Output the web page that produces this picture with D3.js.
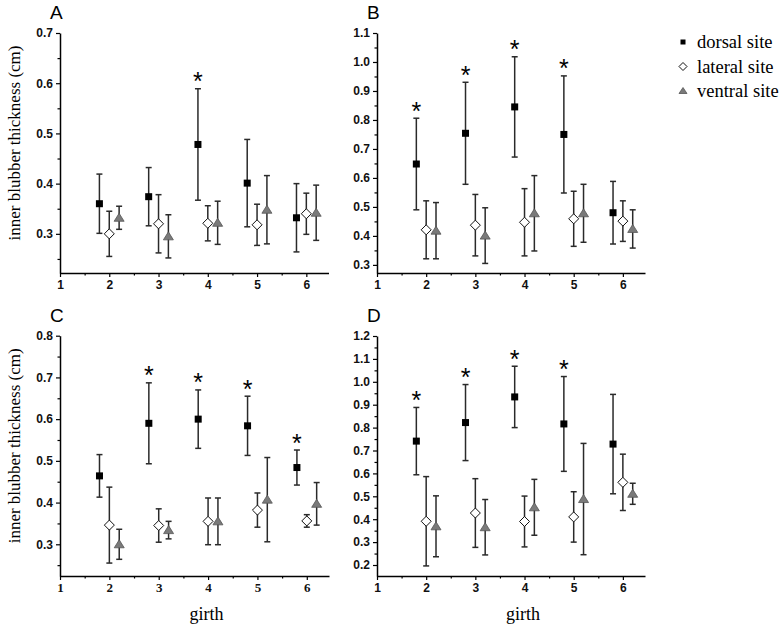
<!DOCTYPE html>
<html>
<head>
<meta charset="utf-8">
<script src="https://cdn.jsdelivr.net/npm/d3@7"></script>
<style>
body { margin: 0; background: #fff; }
</style>
</head>
<body>
<div id="chart"></div>
<script>
var girths = [2, 3, 4, 5, 6];
var siteNames = ["dorsal site", "lateral site", "ventral site"];
var xTicks = [1, 2, 3, 4, 5, 6];

// A
var aDorsal = [0.360, 0.374, 0.478, 0.401, 0.332];
var aDorsalSd = [0.059, 0.058, 0.111, 0.087, 0.068];
var aLateral = [0.300, 0.320, 0.321, 0.318, 0.340];
var aLateralSd = [0.045, 0.058, 0.035, 0.041, 0.041];
var aVentral = [0.332, 0.295, 0.322, 0.348, 0.342];
var aVentralSd = [0.023, 0.043, 0.043, 0.068, 0.055];
var aStars = [4];
var aTicks = [0.3, 0.4, 0.5, 0.6, 0.7];

// B
var bDorsal = [0.648, 0.754, 0.845, 0.750, 0.480];
var bDorsalSd = [0.158, 0.176, 0.173, 0.202, 0.108];
var bLateral = [0.421, 0.437, 0.447, 0.459, 0.451];
var bLateralSd = [0.100, 0.106, 0.116, 0.095, 0.070];
var bVentral = [0.418, 0.401, 0.478, 0.478, 0.424];
var bVentralSd = [0.097, 0.096, 0.130, 0.100, 0.066];
var bStars = [2, 3, 4, 5];
var bTicks = [0.3, 0.4, 0.5, 0.6, 0.7, 0.8, 0.9, 1.0, 1.1];

// C
var cDorsal = [0.464, 0.590, 0.600, 0.584, 0.484];
var cDorsalSd = [0.051, 0.097, 0.070, 0.071, 0.042];
var cLateral = [0.346, 0.345, 0.355, 0.382, 0.356];
var cLateralSd = [0.091, 0.040, 0.056, 0.041, 0.015];
var cVentral = [0.300, 0.334, 0.355, 0.407, 0.397];
var cVentralSd = [0.036, 0.021, 0.056, 0.101, 0.051];
var cStars = [3, 4, 5, 6];
var cTicks = [0.3, 0.4, 0.5, 0.6, 0.7, 0.8];

// D
var dDorsal = [0.741, 0.822, 0.934, 0.816, 0.728];
var dDorsalSd = [0.147, 0.166, 0.134, 0.207, 0.217];
var dLateral = [0.391, 0.427, 0.390, 0.410, 0.561];
var dLateralSd = [0.195, 0.150, 0.111, 0.110, 0.123];
var dVentral = [0.369, 0.365, 0.452, 0.488, 0.511];
var dVentralSd = [0.133, 0.121, 0.122, 0.243, 0.046];
var dStars = [2, 3, 4, 5];
var dTicks = [0.2, 0.3, 0.4, 0.5, 0.6, 0.7, 0.8, 0.9, 1.0, 1.1, 1.2];

var panels = [
    {name: "A", series: [[aDorsal, aDorsalSd], [aLateral, aLateralSd], [aVentral, aVentralSd]], stars: aStars, ticks: aTicks,
     ymin: 0.222, left: 60, right: 328.5, top: 33, bottom: 273, ylabel: true, xlabel: false, serifX: false},
    {name: "B", series: [[bDorsal, bDorsalSd], [bLateral, bLateralSd], [bVentral, bVentralSd]], stars: bStars, ticks: bTicks,
     ymin: 0.272, left: 377, right: 645, top: 33, bottom: 273, ylabel: false, xlabel: false, serifX: false},
    {name: "C", series: [[cDorsal, cDorsalSd], [cLateral, cLateralSd], [cVentral, cVentralSd]], stars: cStars, ticks: cTicks,
     ymin: 0.224, left: 60, right: 329, top: 335.7, bottom: 576, ylabel: true, xlabel: true, serifX: true},
    {name: "D", series: [[dDorsal, dDorsalSd], [dLateral, dLateralSd], [dVentral, dVentralSd]], stars: dStars, ticks: dTicks,
     ymin: 0.152, left: 377, right: 645, top: 336, bottom: 576, ylabel: false, xlabel: true, serifX: false}
];

var offsets = [-0.2, 0, 0.2];
var sans = "'Liberation Sans', Arial, sans-serif";
var serif = "'Liberation Serif', 'Times New Roman', serif";

var svg = d3.select('#chart').append('svg')
    .attr('width', 784)
    .attr('height', 627);

function marker(sel, k, s) {
    if (k === 0) {
        sel.append('rect')
            .attr('x', -s / 2).attr('y', -s / 2).attr('width', s).attr('height', s)
            .style('fill', '#000');
    } else if (k === 1) {
        var h = s / 2 + 1;
        sel.append('path')
            .attr('d', 'M0,' + (-h) + 'L' + h + ',0L0,' + h + 'L' + (-h) + ',0Z')
            .style('fill', '#fff').style('stroke', '#111').style('stroke-width', 1);
    } else {
        var w = s / 2 + 1;
        sel.append('path')
            .attr('d', 'M0,' + (-w + 0.5) + 'L' + w + ',' + (w - 1.5) + 'L' + (-w) + ',' + (w - 1.5) + 'Z')
            .style('fill', '#7a7a7a').style('stroke', '#555').style('stroke-width', 0.8);
    }
}

function drawPanel(p) {
    var x = d3.scaleLinear().domain([1, 6.45]).range([p.left, p.right]);
    var ymax = p.ticks[p.ticks.length - 1];
    var y = d3.scaleLinear().domain([p.ymin, ymax]).range([p.bottom, p.top]);
    var g = svg.append('g');

    // minor ticks
    var yMinor = p.ticks.map(function(t){ return t - 0.05; }).filter(function(t){ return t > p.ymin; });
    var xMinor = [1.5, 2.5, 3.5, 4.5, 5.5];
    g.append('g').attr('transform', 'translate(' + p.left + ',0)')
        .call(d3.axisLeft(y).tickValues(yMinor).tickSize(2.5).tickSizeOuter(0).tickFormat(''))
        .call(function(a){ a.select('.domain').remove(); });
    g.append('g').attr('transform', 'translate(0,' + p.bottom + ')')
        .call(d3.axisBottom(x).tickValues(xMinor).tickSize(2.5).tickSizeOuter(0).tickFormat(''))
        .call(function(a){ a.select('.domain').remove(); });

    var ya = g.append('g').attr('transform', 'translate(' + p.left + ',0)')
        .call(d3.axisLeft(y).tickValues(p.ticks).tickFormat(d3.format('.1f')).tickSize(4).tickSizeOuter(0).tickPadding(3));
    var xa = g.append('g').attr('transform', 'translate(0,' + p.bottom + ')')
        .call(d3.axisBottom(x).tickValues(xTicks).tickFormat(d3.format('d')).tickSize(4).tickSizeOuter(0).tickPadding(3));

    g.selectAll('.domain').style('stroke', '#000').style('stroke-width', 1.5);
    g.selectAll('.tick line').style('stroke', '#000').style('stroke-width', 1.2);
    ya.selectAll('text').style('font-family', sans).style('font-weight', 'bold').style('font-size', '12px').style('fill', '#111');
    xa.selectAll('text').style('font-family', p.serifX ? serif : sans).style('font-weight', 'bold')
        .style('font-size', p.serifX ? '13px' : '12px').style('fill', '#111');

    // panel letter
    g.append('text').attr('x', p.left - 10).attr('y', p.top - 14)
        .style('font-family', sans).style('font-size', '19px').style('fill', '#000')
        .text(p.name);

    if (p.ylabel) {
        g.append('text')
            .attr('transform', 'translate(' + (p.left - 40) + ',' + ((p.top + p.bottom) / 2 - 10) + ') rotate(-90)')
            .attr('text-anchor', 'middle')
            .style('font-family', serif).style('font-size', '17px').style('fill', '#000')
            .text('inner blubber thickness (cm)');
    }
    if (p.xlabel) {
        g.append('text')
            .attr('x', (p.left + p.right) / 2 + 12).attr('y', p.bottom + 44)
            .attr('text-anchor', 'middle')
            .style('font-family', serif).style('font-size', '18px').style('fill', '#000')
            .text('girth');
    }

    p.series.forEach(function(s, k) {
        var pts = girths.map(function(gv, i){ return {g: gv, m: s[0][i], sd: s[1][i]}; });
        var bars = g.append('g').selectAll('g').data(pts).enter().append('g')
            .attr('transform', function(d){ return 'translate(' + x(d.g + offsets[k]) + ',0)'; });
        bars.append('line')
            .attr('y1', function(d){ return y(d.m - d.sd); })
            .attr('y2', function(d){ return y(d.m + d.sd); })
            .style('stroke', '#2a2a2a').style('stroke-width', 1.5);
        bars.append('line').attr('x1', -3).attr('x2', 3)
            .attr('y1', function(d){ return y(d.m + d.sd); }).attr('y2', function(d){ return y(d.m + d.sd); })
            .style('stroke', '#2a2a2a').style('stroke-width', 1.5);
        bars.append('line').attr('x1', -3).attr('x2', 3)
            .attr('y1', function(d){ return y(d.m - d.sd); }).attr('y2', function(d){ return y(d.m - d.sd); })
            .style('stroke', '#2a2a2a').style('stroke-width', 1.5);
        bars.each(function(d){
            var m = d3.select(this).append('g').attr('transform', 'translate(0,' + y(d.m) + ')');
            marker(m, k, k === 0 ? 7 : 8);
        });
    });

    // significance stars over dorsal bars
    var dors = p.series[0];
    g.selectAll('.star').data(p.stars).enter().append('text')
        .attr('class', 'star')
        .attr('x', function(d){ return x(d - 0.2); })
        .attr('y', function(d){ var i = girths.indexOf(d); return y(dors[0][i] + dors[1][i]) + 12; })
        .attr('dy', '-0.42em')
        .attr('text-anchor', 'middle')
        .style('font-family', sans).style('font-size', '25px').style('fill', '#000')
        .text('*');
}

panels.forEach(drawPanel);

// legend
var legend = svg.append('g').attr('transform', 'translate(683,42)');
siteNames.forEach(function(name, k) {
    var row = legend.append('g').attr('transform', 'translate(0,' + (k * 24.5) + ')');
    marker(row, k, k === 0 ? 5 : 6);
    row.append('text').attr('x', 14).attr('y', 6)
        .style('font-family', serif).style('font-size', '18.5px').style('fill', '#000')
        .text(name);
});
</script>
</body>
</html>
